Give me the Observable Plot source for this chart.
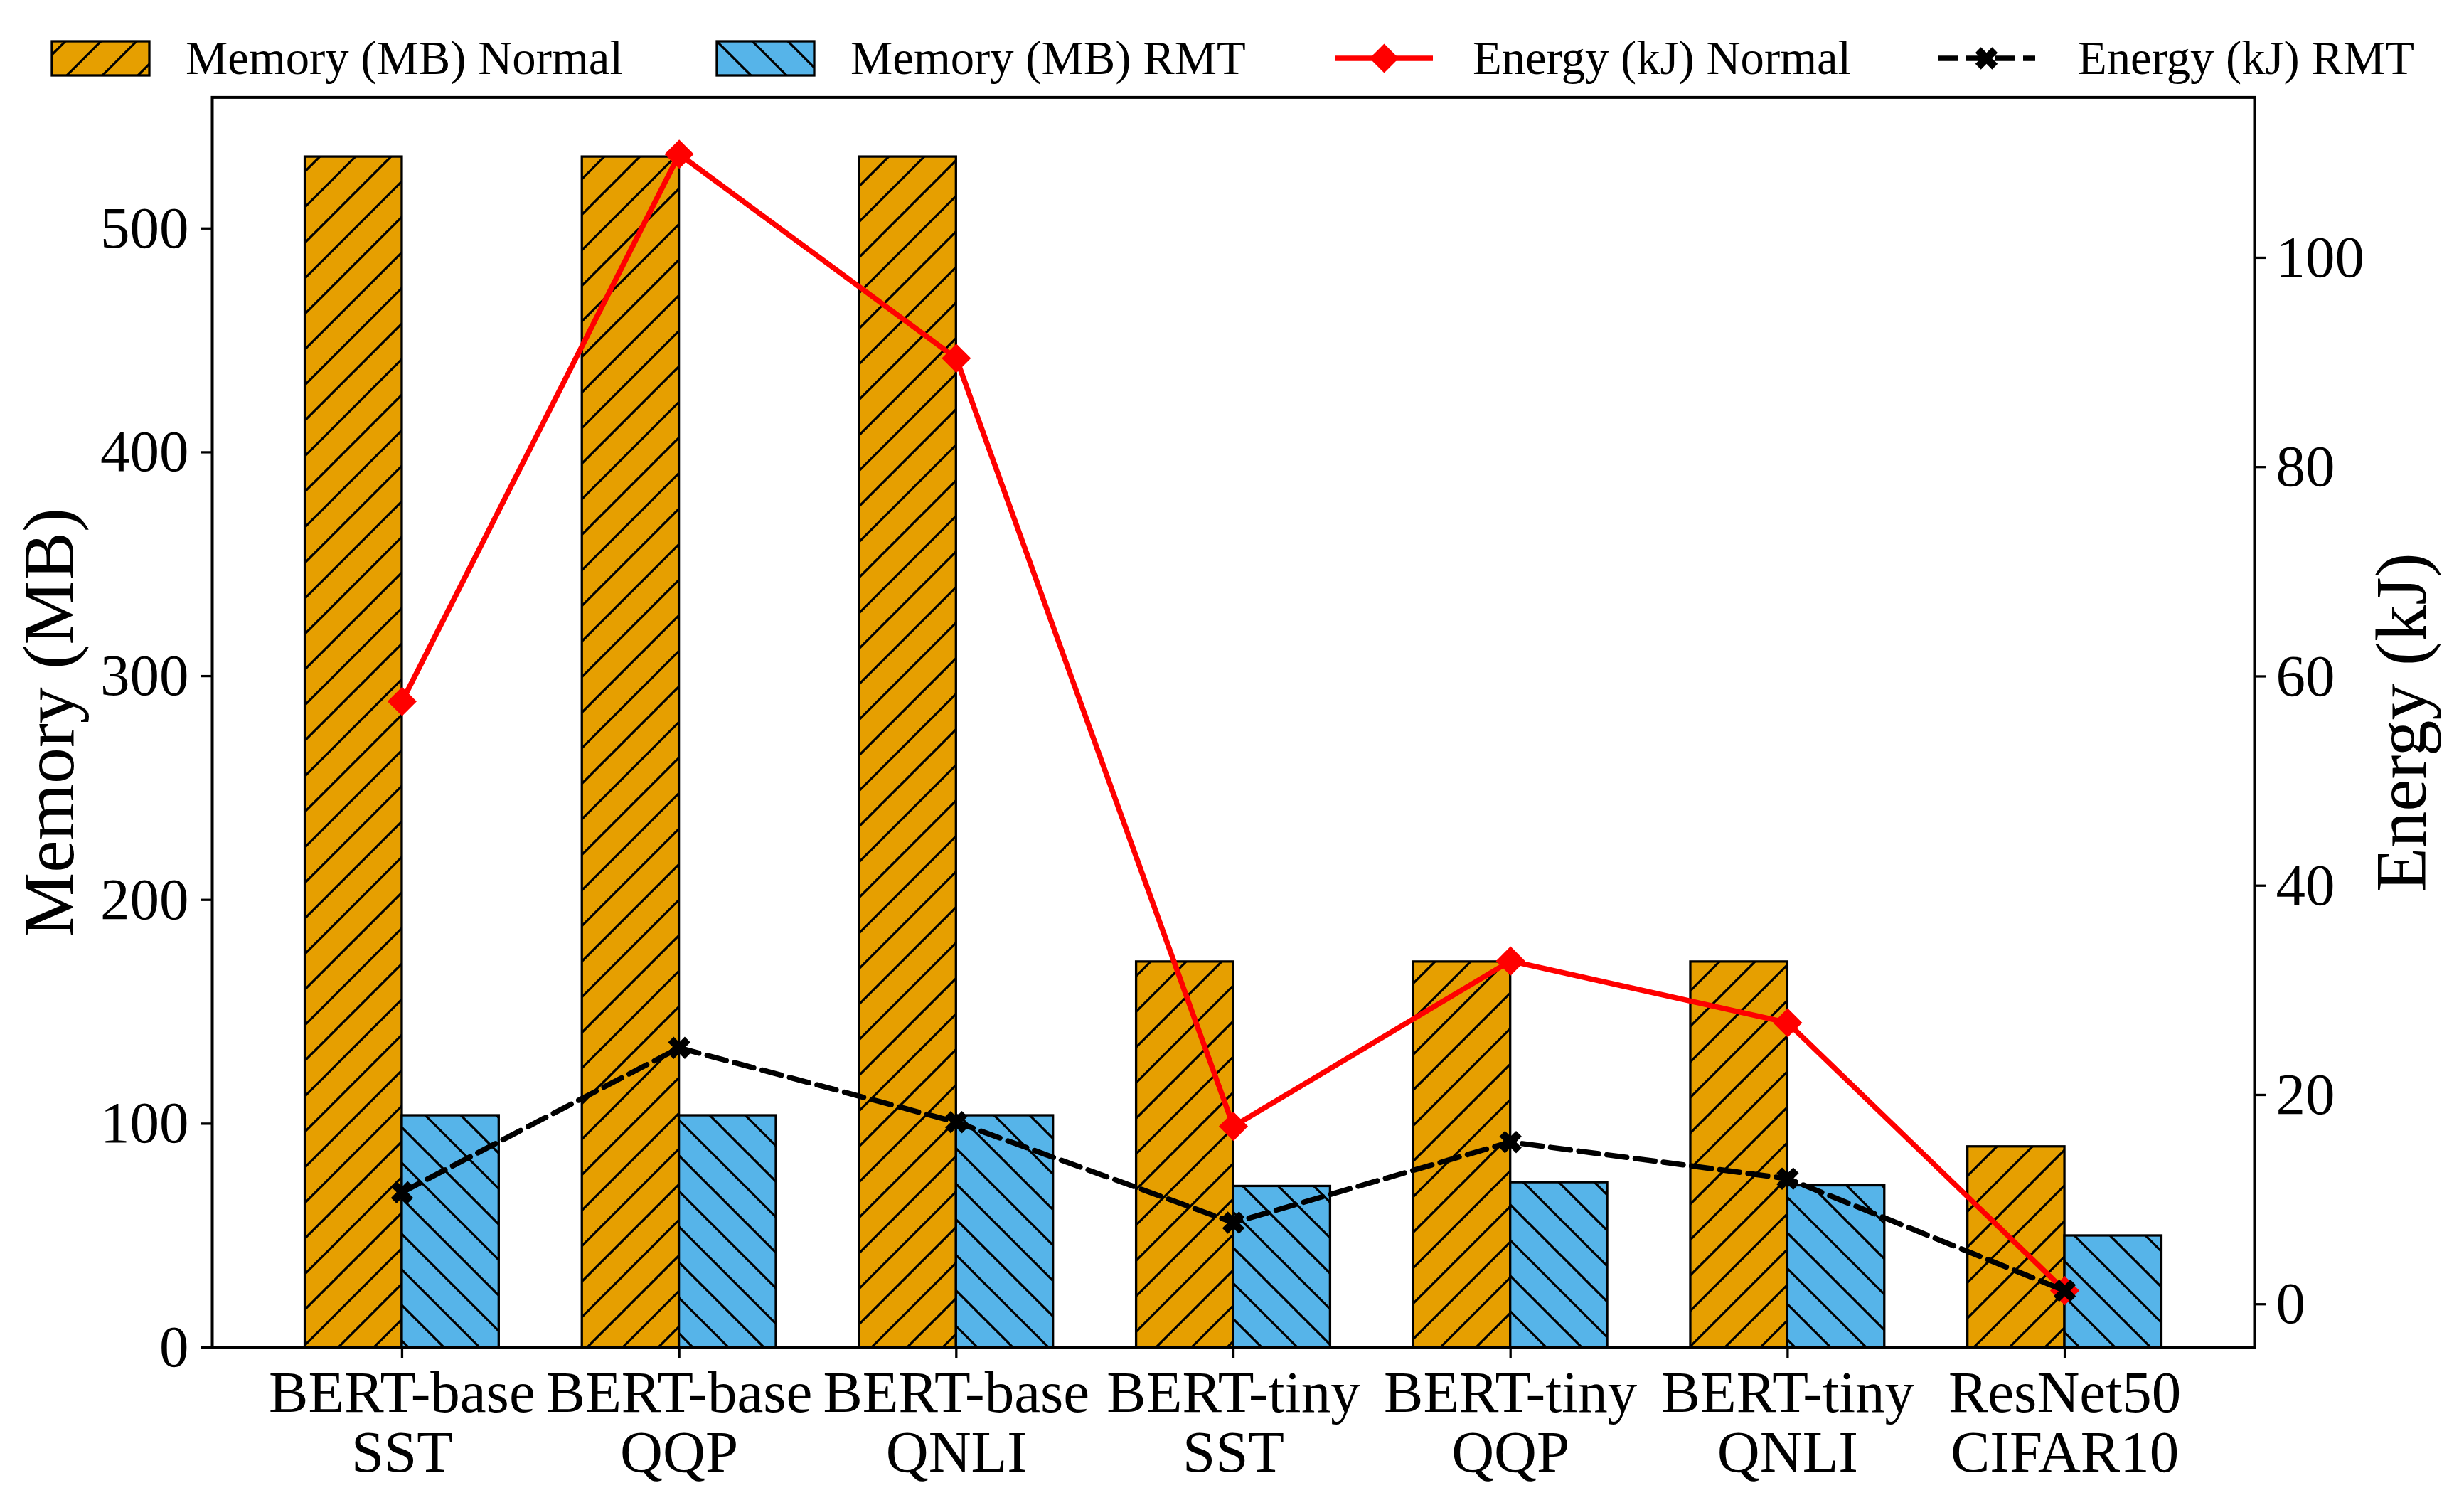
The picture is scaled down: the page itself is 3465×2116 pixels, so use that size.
<!DOCTYPE html>
<html>
<head>
<meta charset="utf-8">
<script src="https://cdn.jsdelivr.net/npm/d3@7"></script>
<script src="https://cdn.jsdelivr.net/npm/@observablehq/plot@0.6"></script>
<style>
  html, body { margin: 0; padding: 0; background: #fff; overflow: hidden; }
  #wrap { position: relative; width: 3465px; height: 2116px; font-family: "Liberation Serif", "Times New Roman", serif; }
  #legend { position: absolute; left: 0; top: 0; display: block; }
  #chart { position: absolute; left: 0; top: 120px; width: 3465px; height: 1996px; }
  #chart svg { position: absolute; left: 0; top: 0; display: block; }
</style>
</head>
<body>
<div id="wrap">
  <svg id="legend"></svg>
  <div id="chart"></div>
</div>
<script>
// ---------- data ----------
const categories = ["BERT-base\nSST", "BERT-base\nQQP", "BERT-base\nQNLI", "BERT-tiny\nSST", "BERT-tiny\nQQP", "BERT-tiny\nQNLI", "ResNet50\nCIFAR10"];
const memoryNormal = [532, 532, 532, 172.3, 172.3, 172.3, 89.7];
const memoryRMT = [103.6, 103.6, 103.6, 72.0, 73.7, 72.3, 49.9];
const energyNormal = [57.6, 109.9, 90.4, 17.0, 32.8, 26.9, 1.3];
const energyRMT = [10.7, 24.5, 17.4, 7.8, 15.5, 12.0, 1.3];
const memoryTicks = [0, 100, 200, 300, 400, 500];
const energyTicks = [0, 20, 40, 60, 80, 100];
const seriesLabels = ["Memory (MB) Normal", "Memory (MB) RMT", "Energy (kJ) Normal", "Energy (kJ) RMT"];

// ---------- layout / style ----------
const W = 3465, H = 1996;
const margins = { marginTop: 16.4, marginBottom: 222, marginLeft: 298, marginRight: 295 };
const barWidth = 0.35;
const orange = "#E69F00", blue = "#56B4E9";
const font = "Liberation Serif";
const tickFont = 83, labelFont = 102, legendFont = 66.7;

const rows = categories.map((c, i) => ({
  i, category: c,
  memNormal: memoryNormal[i], memRMT: memoryRMT[i],
  enNormal: energyNormal[i], enRMT: energyRMT[i]
}));

// matplotlib-like 5% margins
const xDomain = [-barWidth - 0.05 * (categories.length - 1 + 2 * barWidth), categories.length - 1 + barWidth + 0.05 * (categories.length - 1 + 2 * barWidth)];
const memMax = d3.max([...memoryNormal, ...memoryRMT]);
const memDomain = [0, memMax * 1.05];
const eAll = [...energyNormal, ...energyRMT];
const eMin = d3.min(eAll), eMax = d3.max(eAll), ePad = 0.05 * (eMax - eMin);
const energyDomain = [eMin - ePad, eMax + ePad];

// ---------- legend (with hatch pattern defs) ----------
const leg = d3.select("#legend").attr("width", W).attr("height", 120);
const defs = leg.append("defs");
function hatch(id, color, dir) {
  const p = defs.append("pattern").attr("id", id).attr("patternUnits", "userSpaceOnUse")
    .attr("width", 50).attr("height", 50);
  p.append("rect").attr("width", 50).attr("height", 50).attr("fill", color);
  const d = dir === "/"
    ? "M-12.5,12.5L12.5,-12.5M0,50L50,0M37.5,62.5L62.5,37.5"
    : "M0,0L50,50M-12.5,37.5L12.5,62.5M37.5,-12.5L62.5,12.5";
  p.append("path").attr("d", d).attr("stroke", "black").attr("stroke-width", 3.3).attr("fill", "none");
}
hatch("hatchNormal", orange, "/");
hatch("hatchRMT", blue, "\\");

const legItems = [
  { kind: "patch", fill: "url(#hatchNormal)", x: 73, tx: 261 },
  { kind: "patch", fill: "url(#hatchRMT)", x: 1008, tx: 1196 },
  { kind: "line", color: "red", dash: null, symbol: d3.symbolDiamond2, r: 18.5, rot: 0, x: 1878, tx: 2071 },
  { kind: "line", color: "black", dash: "28,12", symbol: d3.symbolCross, r: 14, rot: 45, x: 2725, tx: 2922 }
];
legItems.forEach((it, k) => {
  if (it.kind === "patch") {
    leg.append("rect").attr("x", it.x).attr("y", 58).attr("width", 137).attr("height", 48)
      .attr("fill", it.fill).attr("stroke", "black").attr("stroke-width", 3.3);
  } else {
    leg.append("line").attr("x1", it.x).attr("x2", it.x + 137).attr("y1", 82).attr("y2", 82)
      .attr("stroke", it.color).attr("stroke-width", 7.5)
      .attr("stroke-dasharray", it.dash);
    leg.append("path").attr("d", d3.symbol(it.symbol, Math.PI * it.r * it.r)())
      .attr("transform", `translate(${it.x + 68.5},82) rotate(${it.rot})`).attr("fill", it.color);
  }
  leg.append("text").attr("x", it.tx).attr("y", 104).attr("font-family", font)
    .attr("font-size", legendFont).attr("fill", "black").text(seriesLabels[k]);
});

// ---------- memory (left axis) plot ----------
const memPlot = Plot.plot({
  width: W, height: H, ...margins,
  style: { fontFamily: font, color: "black", background: "white", overflow: "visible" },
  x: { domain: xDomain },
  y: { domain: memDomain },
  marks: [
    Plot.rect(rows, { x1: d => d.i - barWidth, x2: d => d.i, y1: 0, y2: "memNormal",
      fill: "url(#hatchNormal)", stroke: "black", strokeWidth: 3.3 }),
    Plot.rect(rows, { x1: d => d.i, x2: d => d.i + barWidth, y1: 0, y2: "memRMT",
      fill: "url(#hatchRMT)", stroke: "black", strokeWidth: 3.3 }),
    Plot.frame({ stroke: "black", strokeWidth: 4 }),
    Plot.axisY({ anchor: "left", ticks: memoryTicks, tickSize: 16, tickPadding: 17,
      fontSize: tickFont, strokeWidth: 3.3, label: null }),
    Plot.axisX({ ticks: d3.range(categories.length), tickFormat: i => categories[i],
      tickSize: 16, tickPadding: 14, fontSize: tickFont, strokeWidth: 3.3, label: null, lineHeight: 1.02 }),
    Plot.text(["Memory (MB)"], { frameAnchor: "left", rotate: -90, dx: -268, lineAnchor: "top",
      textAnchor: "middle", fontSize: labelFont, fill: "black" })
  ]
});

// ---------- energy (right axis) plot, overlaid ----------
const enPlot = Plot.plot({
  width: W, height: H, ...margins,
  style: { fontFamily: font, color: "black", background: "transparent", overflow: "visible" },
  x: { domain: xDomain, axis: null },
  y: { domain: energyDomain },
  marks: [
    Plot.axisY({ anchor: "right", ticks: energyTicks, tickSize: 16, tickPadding: 14,
      fontSize: tickFont, strokeWidth: 3.3, label: null }),
    Plot.text(["Energy (kJ)"], { frameAnchor: "right", rotate: -90, dx: 168, lineAnchor: "top",
      textAnchor: "middle", fontSize: labelFont, fill: "black" }),
    Plot.line(rows, { x: "i", y: "enNormal", stroke: "red", strokeWidth: 7.5 }),
    Plot.dot(rows, { x: "i", y: "enNormal", symbol: "diamond2", r: 18.5, fill: "red", stroke: "none" }),
    Plot.line(rows, { x: "i", y: "enRMT", stroke: "black", strokeWidth: 7.5, strokeDasharray: "28,12" }),
    Plot.dot(rows, { x: "i", y: "enRMT", symbol: "cross", rotate: 45, r: 14, fill: "black", stroke: "none" })
  ]
});

document.getElementById("chart").append(memPlot, enPlot);
</script>
</body>
</html>
